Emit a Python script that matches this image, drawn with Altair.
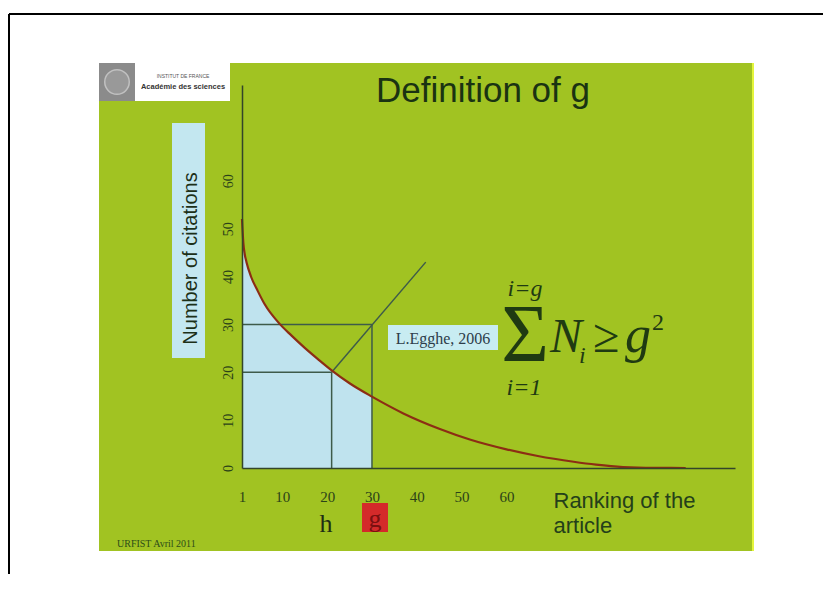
import altair as alt
import pandas as pd

# ---- data ----
rank = [1, 1.3, 1.6, 2, 3, 4.5, 6, 9.4, 12, 15, 18, 21, 25, 30, 37, 45, 52, 60, 67, 75, 80, 86, 93, 100]
citations = [52, 47, 44.7, 43, 40, 37, 34.3, 30.1, 27.7, 25.1, 22.7, 20.4, 17.7, 14.9, 11.4, 8.2, 5.9, 3.9, 2.5, 1.3, 0.7, 0.2, 0.02, 0]

g_rank = 30
# guide segments: g-square, h-square and the diagonal (citations = rank)
seg_rank = [1, 30, 1, 21, 21]
seg_cit = [30, 0, 20, 0, 20]
seg_rank2 = [30, 30, 21, 21, 42]
seg_cit2 = [30, 30, 20, 20, 43]

x_ticks = [1, 10, 20, 30, 40, 50, 60]
y_ticks = [0, 10, 20, 30, 40, 50, 60]

curve_df = pd.DataFrame({"rank": rank, "citations": citations})
seg_df = pd.DataFrame({"rank": seg_rank, "citations": seg_cit,
                       "rank2": seg_rank2, "citations2": seg_cit2})
one = pd.DataFrame({"k": [0]})

W, H = 493, 383
DARK = "#24401a"

xscale = alt.Scale(domain=[1, 111], nice=False, zero=False)
yscale = alt.Scale(domain=[0, 80], nice=False)

xaxis = alt.Axis(values=x_ticks, title=["Ranking of the", "article"], grid=False,
                 ticks=False, tickSize=0, domainColor="#33452a", domainWidth=1.5,
                 labelFont="Liberation Serif", labelFontSize=15, labelColor="#2b4218",
                 labelPadding=21, labelFlush=False, labelOverlap=False,
                 titleFont="Liberation Sans", titleFontSize=22, titleFontWeight="normal",
                 titleColor=DARK, titleAlign="left", titleBaseline="alphabetic",
                 titleX=311, titleY=39, titleLineHeight=25, zindex=1)
yaxis = alt.Axis(values=y_ticks, title="Number of citations", grid=False,
                 ticks=False, tickSize=0, domainColor="#33452a", domainWidth=1.5,
                 labelFont="Liberation Serif", labelFontSize=14, labelColor="#2b4218",
                 labelAngle=270, labelAlign="center", labelBaseline="middle",
                 labelPadding=14, labelOverlap=False,
                 titleFont="Liberation Sans", titleFontSize=20, titleFontWeight="normal",
                 titleColor="#1c3018", titleAngle=270, titleAlign="center",
                 titleBaseline="middle", titleX=-52, titleY=173, zindex=1)

X = alt.X("rank:Q", scale=xscale, axis=xaxis)
Y = alt.Y("citations:Q", scale=yscale, axis=yaxis)


def box(x, x2, y, y2, color, **kw):
    return alt.Chart(one).mark_rect(color=color, **kw).encode(
        x=alt.value(x), x2=alt.value(x2), y=alt.value(y), y2=alt.value(y2))


def rule(x, x2, y, y2, color, width):
    return alt.Chart(one).mark_rule(color=color, strokeWidth=width).encode(
        x=alt.value(x), x2=alt.value(x2), y=alt.value(y), y2=alt.value(y2))


def label(txt, x, y, size, font="Liberation Serif", color=DARK, align="center",
          baseline="alphabetic", **kw):
    return alt.Chart(one).mark_text(text=txt, font=font, fontSize=size, color=color,
                                    align=align, baseline=baseline, **kw).encode(
        x=alt.value(x), y=alt.value(y))


layers = [
    # frame and slide
    rule(-233, 600, -71, -71, "black", 2),
    rule(-233, -233, -71, 500, "black", 2),
    box(-143, 511, -22, 466, "#a1c322"),
    rule(511, 511, -22, 466, "#e4f53c", 2),
    # logo
    box(-143, -107, -22, 16, "#8b8b8b"),
    alt.Chart(one).mark_point(filled=True, size=600, color="#a0a0a0",
                              stroke="#d8d8d8", strokeWidth=1.5).encode(
        x=alt.value(-125), y=alt.value(-3)),
    box(-107, -12, -22, 16, "white"),
    label("INSTITUT DE FRANCE", -59, -7, 5, font="Liberation Sans", color="#555555"),
    label("Académie des sciences", -59, 4, 7.5, font="Liberation Sans", color="#333333",
          fontWeight="bold"),
    # title
    label("Definition of g", 241, 17, 35, font="Liberation Sans", color="#1a3312"),
    # y-title box
    box(-70, -37, 38, 273, "#c3e7f0"),
    # data
    alt.Chart(curve_df).transform_filter(alt.datum.rank <= g_rank)
    .mark_area(color="#bfe3ee", interpolate="monotone", opacity=1).encode(x=X, y=Y),
    alt.Chart(seg_df).mark_rule(color="#3e5b4a", strokeWidth=1.5).encode(
        x=X, y=Y, x2="rank2:Q", y2="citations2:Q"),
    alt.Chart(curve_df).mark_line(color="#8c2d14", strokeWidth=2.2,
                                  interpolate="monotone").encode(x=X, y=Y),
    # reference box
    box(146, 256, 240, 265, "#c8ecf2"),
    label("L.Egghe, 2006", 201, 259, 16, color="#2d3d4a"),
    # formula
    label("Σ", 283, 276, 82, color="#1f3a12"),
    label("N", 308, 267, 48, color="#1f3a12", align="left", fontStyle="italic"),
    label("i", 337, 278, 24, color="#1f3a12", align="left", fontStyle="italic"),
    label("≥", 351, 267, 48, color="#1f3a12", align="left"),
    label("g", 383, 267, 52, color="#1f3a12", align="left", fontStyle="italic"),
    label("2", 410, 245, 24, color="#1f3a12", align="left"),
    label("i=g", 283, 211, 24, color="#1f3a12", fontStyle="italic"),
    label("i=1", 282, 310, 24, color="#1f3a12", fontStyle="italic"),
    # h and g markers
    label("h", 84, 447, 26, color="#1e2e14"),
    box(120, 146, 418, 447, "#d42a2a"),
    label("g", 133, 442, 26, color="#7a1010"),
    # footer
    label("URFIST Avril 2011", -125, 462, 10, color="#2d4d18", align="left"),
]

chart = alt.layer(*layers).properties(
    width=W, height=H,
    autosize=alt.AutoSizeParams(type="none"),
    padding={"left": 234, "top": 77, "right": 88, "bottom": 106},
    background="white",
).configure_view(stroke=None)

chart.save("out.html", embed_options={"renderer": "svg", "actions": False})
